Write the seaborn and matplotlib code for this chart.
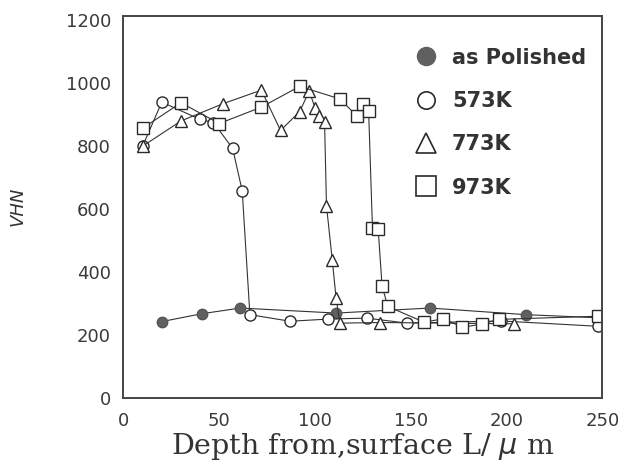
import matplotlib
matplotlib.use("Agg")
import matplotlib.pyplot as plt
from matplotlib.lines import Line2D
import seaborn as sns
import pandas as pd

# ---- data ----
polished_x = [20, 41, 61, 111, 160, 210, 248]
polished_y = [243, 268, 286, 270, 286, 265, 255]

k573_x = [10, 20, 40, 47, 57, 62, 66, 87, 107, 127, 148, 197, 248]
k573_y = [800, 940, 885, 875, 793, 658, 265, 244, 251, 254, 238, 245, 228]

k773_x = [10, 30, 52, 72, 82, 92, 97, 100, 102, 105, 106, 109, 111, 113, 134, 204]
k773_y = [800, 880, 935, 978, 850, 910, 975, 922, 897, 876, 610, 440, 318, 238, 240, 236]

k973_x = [10, 30, 50, 72, 92, 113, 122, 125, 128, 130, 133, 135, 138, 157, 167, 177, 187, 196, 248]
k973_y = [857, 938, 872, 924, 990, 950, 895, 935, 912, 540, 536, 357, 291, 241, 252, 225, 235, 250, 260]

labels = ["as Polished", "573K", "773K", "973K"]
x_ticks = [0, 50, 100, 150, 200, 250]
y_ticks = [0, 200, 400, 600, 800, 1000, 1200]

sns.set_theme(style="white")
plt.rcParams["font.family"] = ["DejaVu Sans"]

fig = plt.figure(figsize=(6.3, 4.7), dpi=100)
ax = fig.add_axes([0.196, 0.153, 0.760, 0.814])

line_kw = dict(color="#333333", linewidth=0.8, sort=False, estimator=None, ax=ax)
edge = "#2a2a2a"

series = [
    (polished_x, polished_y, "o", "#606060", 7.5),
    (k573_x, k573_y, "o", "white", 8),
    (k773_x, k773_y, "^", "white", 9),
    (k973_x, k973_y, "s", "white", 9),
]
for xs, ys, m, fc, ms in series:
    df = pd.DataFrame({"x": xs, "y": ys})
    sns.lineplot(data=df, x="x", y="y", marker=m, markersize=ms,
                 markerfacecolor=fc, markeredgecolor=edge if fc == "white" else "#555555",
                 markeredgewidth=1.0, **line_kw)

ax.set_xlim(0, 250)
ax.set_ylim(0, 1215)
ax.set_xticks(x_ticks)
ax.set_yticks(y_ticks)
ax.set_xticklabels([str(t) for t in x_ticks], fontsize=13, color="#3a3a3a")
ax.set_yticklabels([str(t) for t in y_ticks], fontsize=13, color="#3a3a3a")
ax.tick_params(axis="x", direction="in", length=9, width=1.3, pad=10, colors="#333333")
ax.tick_params(axis="y", direction="in", length=10, width=1.3, pad=9, colors="#333333")
ax.tick_params(axis="both", labelcolor="#3a3a3a")
for s in ax.spines.values():
    s.set_color("#444444")
    s.set_linewidth(1.4)

ax.set_xlabel("Depth from,surface L/ $\\mu$ m", fontsize=20.5, family=["DejaVu Serif"],
              color="#333333", labelpad=1)
ax.set_ylabel("VHN", fontsize=13, style="italic", color="#333333", labelpad=28)

handles = [
    Line2D([], [], linestyle="none", marker="o", markersize=13, markerfacecolor="#606060", markeredgecolor="#606060"),
    Line2D([], [], linestyle="none", marker="o", markersize=12.5, markerfacecolor="white", markeredgecolor=edge, markeredgewidth=1.2),
    Line2D([], [], linestyle="none", marker="^", markersize=15, markerfacecolor="white", markeredgecolor=edge, markeredgewidth=1.2),
    Line2D([], [], linestyle="none", marker="s", markersize=14, markerfacecolor="white", markeredgecolor=edge, markeredgewidth=1.2),
]
leg = ax.legend(handles, labels, loc="upper left", bbox_to_anchor=(0.571, 0.965), frameon=False,
                labelspacing=1.12, handletextpad=0.75, handlelength=1.0,
                prop={"family": ["DejaVu Sans"], "weight": "bold", "size": 15})
for t in leg.get_texts():
    t.set_color("#333333")

fig.savefig("out.png", dpi=100, facecolor="white")
